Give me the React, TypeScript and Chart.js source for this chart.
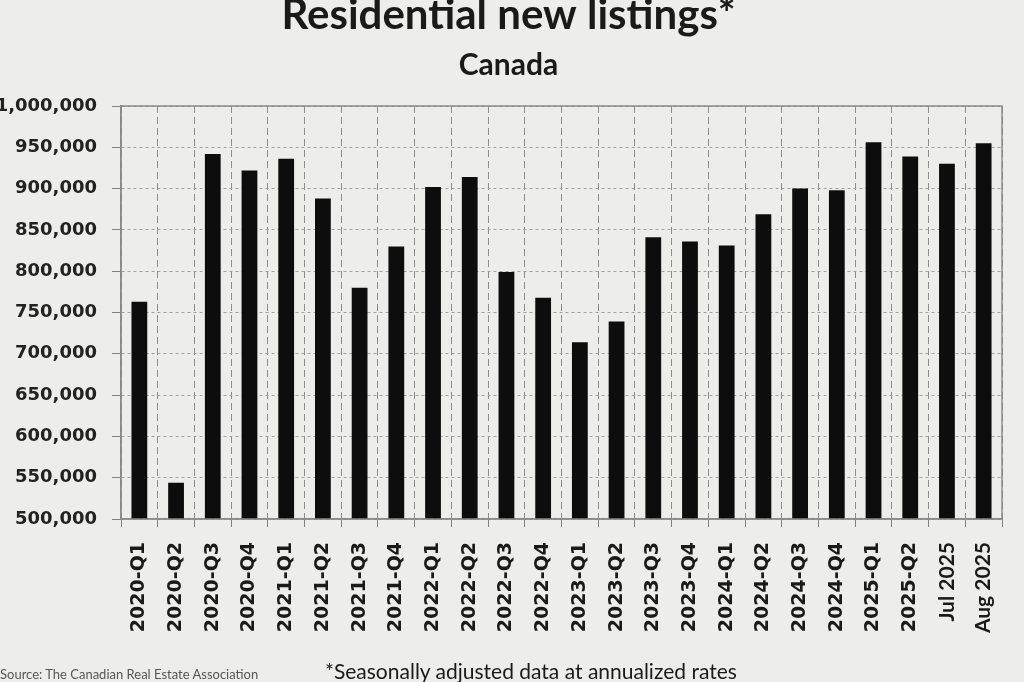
import React, { useEffect, useRef } from "react";
import { Chart, registerables } from "chart.js";

Chart.register(...registerables);

const categories = [
  "2020-Q1", "2020-Q2", "2020-Q3", "2020-Q4",
  "2021-Q1", "2021-Q2", "2021-Q3", "2021-Q4",
  "2022-Q1", "2022-Q2", "2022-Q3", "2022-Q4",
  "2023-Q1", "2023-Q2", "2023-Q3", "2023-Q4",
  "2024-Q1", "2024-Q2", "2024-Q3", "2024-Q4",
  "2025-Q1", "2025-Q2", "Jul 2025", "Aug 2025",
];

const newListings = [
  763000, 544000, 942000, 922000,
  936000, 888000, 780000, 830000,
  902000, 914000, 799000, 768000,
  714000, 739000, 841000, 836000,
  831000, 869000, 900000, 898000,
  956000, 939000, 930000, 955000,
];

const yMin = 500000;
const yMax = 1000000;
const yStep = 50000;

const titleText = "Residential new listings*";
const subtitleText = "Canada";
const sourceText = "Source: The Canadian Real Estate Association";
const noteText = "*Seasonally adjusted data at annualized rates";

const framePlugin = {
  id: "frame",
  afterDatasetsDraw(chart: any) {
    const { ctx, chartArea } = chart;
    const { left, top, right, bottom } = chartArea;
    ctx.save();
    ctx.setLineDash([]);
    ctx.strokeStyle = "#8a8a8a";
    ctx.lineWidth = 1.5;
    ctx.strokeRect(left, top, right - left, bottom - top);
    ctx.restore();
  },
};

export default function App() {
  const canvasRef = useRef<HTMLCanvasElement | null>(null);

  useEffect(() => {
    if (!canvasRef.current) return;
    const chart = new Chart(canvasRef.current, {
      type: "bar",
      data: {
        labels: categories,
        datasets: [
          {
            data: newListings,
            backgroundColor: "#0d0d0d",
            borderWidth: 0,
            barPercentage: 0.43,
            categoryPercentage: 1.0,
          },
        ],
      },
      options: {
        responsive: false,
        animation: false,
        maintainAspectRatio: false,
        layout: { padding: { left: 0, right: 7, top: 0, bottom: 0 } },
        plugins: {
          legend: { display: false },
          tooltip: { enabled: false },
          title: {
            display: true,
            text: titleText,
            color: "#1a1a1a",
            font: { family: "Lato", size: 42, weight: "bold", lineHeight: 1 },
            padding: { top: -6, bottom: 0 },
          },
          subtitle: {
            display: true,
            text: subtitleText,
            color: "#1a1a1a",
            font: { family: "Lato", size: 30, weight: "bold", lineHeight: 1 },
            padding: { top: 14, bottom: 26 },
          },
        },
        scales: {
          x: {
            grid: {
              offset: true,
              color: "#8c8c8c",
              lineWidth: 1,
              tickLength: 8,
              tickColor: "#808080",
              tickWidth: 1,
            },
            border: { display: true, color: "#8a8a8a", width: 1.5, dash: [7, 4] },
            ticks: {
              autoSkip: false,
              maxRotation: 90,
              minRotation: 90,
              padding: 15,
              color: "#1a1a1a",
              font: (ctx: any) =>
                ctx.index >= 22
                  ? { family: "Lato", size: 21, weight: "bold" }
                  : { family: "DejaVu Sans", size: 19, weight: "bold" },
            },
            afterFit: (scale: any) => {
              scale.height = 163;
            },
          },
          y: {
            min: yMin,
            max: yMax,
            grid: {
              color: "#a0a0a0",
              lineWidth: 1,
              tickLength: 9,
              tickColor: "#808080",
              tickWidth: 1,
            },
            border: { display: true, color: "#8a8a8a", width: 1.5, dash: [3, 3] },
            ticks: {
              stepSize: yStep,
              padding: 15,
              color: "#222222",
              font: { family: "DejaVu Sans", size: 18, weight: "bold" },
              callback: (v: any) => Number(v).toLocaleString("en-US"),
            },
            afterFit: (scale: any) => {
              scale.width = 121;
            },
          },
        },
      },
      plugins: [framePlugin],
    });
    return () => chart.destroy();
  }, []);

  return (
    <div
      style={{
        position: "fixed",
        left: 0,
        top: 0,
        width: 1024,
        height: 682,
        background: "#ededeb",
        overflow: "hidden",
      }}
    >
      <canvas ref={canvasRef} width={1024} height={682} style={{ display: "block" }} />
      <div
        style={{
          position: "absolute",
          left: 0,
          top: 668,
          fontFamily: "Lato",
          fontSize: 13,
          color: "#555",
          whiteSpace: "nowrap",
          lineHeight: 1,
        }}
      >
        {sourceText}
      </div>
      <div
        style={{
          position: "absolute",
          left: 325,
          top: 660,
          fontFamily: "Lato",
          fontSize: 21,
          color: "#1a1a1a",
          whiteSpace: "nowrap",
          lineHeight: 1,
        }}
      >
        {noteText}
      </div>
    </div>
  );
}
